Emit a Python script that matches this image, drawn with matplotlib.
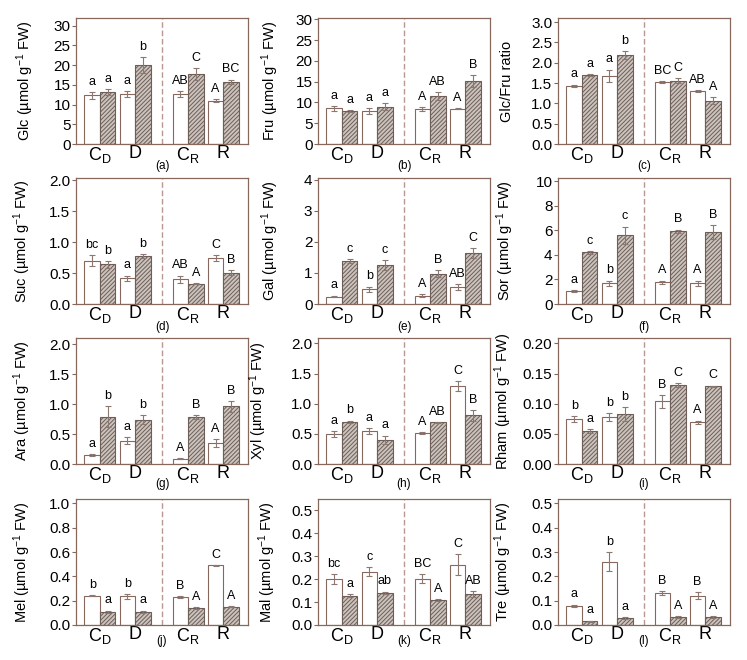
import matplotlib
matplotlib.use("Agg")
import matplotlib.pyplot as plt
import numpy as np

plt.rcParams['font.family'] = ['Liberation Sans', 'DejaVu Sans']
plt.rcParams['mathtext.fontset'] = 'custom'
plt.rcParams['mathtext.rm'] = 'Liberation Sans'
plt.rcParams['mathtext.it'] = 'Liberation Sans:italic'
plt.rcParams['hatch.linewidth'] = 0.7

# ---------------- data ----------------
groups = [r'C$_\mathregular{D}$', 'D', r'C$_\mathregular{R}$', 'R']
panel_tags = ['(a)', '(b)', '(c)', '(d)', '(e)', '(f)', '(g)', '(h)', '(i)', '(j)', '(k)', '(l)']
ylabels = ['Glc (µmol g$^{-1}$ FW)', 'Fru (µmol g$^{-1}$ FW)', 'Glc/Fru ratio',
           'Suc (µmol g$^{-1}$ FW)', 'Gal (µmol g$^{-1}$ FW)', 'Sor (µmol g$^{-1}$ FW)',
           'Ara (µmol g$^{-1}$ FW)', 'Xyl (µmol g$^{-1}$ FW)', 'Rham (µmol g$^{-1}$ FW)',
           'Mel (µmol g$^{-1}$ FW)', 'Mal (µmol g$^{-1}$ FW)', 'Tre (µmol g$^{-1}$ FW)']

# white bars (first bar of each group)
white_vals = [
    [12.3, 12.6, 12.7, 11.0],
    [8.6, 7.9, 8.4, 8.5],
    [1.43, 1.68, 1.52, 1.31],
    [0.70, 0.42, 0.40, 0.74],
    [0.24, 0.48, 0.27, 0.55],
    [1.05, 1.70, 1.75, 1.70],
    [0.15, 0.39, 0.09, 0.35],
    [0.50, 0.54, 0.51, 1.29],
    [0.075, 0.078, 0.104, 0.069],
    [0.240, 0.235, 0.230, 0.490],
    [0.200, 0.232, 0.202, 0.262],
    [0.080, 0.261, 0.133, 0.121],
]
white_err = [
    [0.9, 0.7, 0.8, 0.3],
    [0.6, 0.8, 0.5, 0.2],
    [0.03, 0.15, 0.02, 0.02],
    [0.09, 0.04, 0.06, 0.05],
    [0.03, 0.08, 0.05, 0.10],
    [0.10, 0.20, 0.15, 0.20],
    [0.01, 0.06, 0.01, 0.07],
    [0.05, 0.05, 0.02, 0.08],
    [0.005, 0.007, 0.011, 0.003],
    [0.005, 0.020, 0.008, 0.005],
    [0.023, 0.020, 0.020, 0.045],
    [0.004, 0.040, 0.008, 0.015],
]
hatch_vals = [
    [13.2, 20.0, 17.7, 15.8],
    [7.9, 9.0, 11.6, 15.2],
    [1.69, 2.19, 1.56, 1.07],
    [0.64, 0.78, 0.33, 0.51],
    [1.38, 1.25, 0.98, 1.63],
    [4.20, 5.60, 5.90, 5.85],
    [0.79, 0.74, 0.78, 0.96],
    [0.70, 0.40, 0.69, 0.81],
    [0.055, 0.083, 0.131, 0.129],
    [0.110, 0.110, 0.140, 0.150],
    [0.127, 0.140, 0.110, 0.135],
    [0.016, 0.028, 0.032, 0.032],
]
hatch_err = [
    [0.7, 2.0, 1.6, 0.5],
    [0.3, 0.8, 0.9, 1.4],
    [0.02, 0.10, 0.06, 0.08],
    [0.05, 0.03, 0.01, 0.04],
    [0.07, 0.17, 0.10, 0.16],
    [0.10, 0.70, 0.15, 0.60],
    [0.18, 0.07, 0.03, 0.09],
    [0.02, 0.07, 0.01, 0.09],
    [0.003, 0.012, 0.003, 0.001],
    [0.008, 0.008, 0.005, 0.005],
    [0.007, 0.005, 0.004, 0.013],
    [0.002, 0.003, 0.003, 0.005],
]
white_letters = [
    ['a', 'a', 'AB', 'A'], ['a', 'a', 'A', 'A'], ['a', 'a', 'BC', 'AB'],
    ['bc', 'a', 'AB', 'C'], ['a', 'b', 'A', 'AB'], ['a', 'b', 'A', 'A'],
    ['a', 'a', 'A', 'A'], ['a', 'a', 'A', 'C'], ['b', 'b', 'B', 'A'],
    ['b', 'b', 'B', 'C'], ['bc', 'c', 'BC', 'C'], ['a', 'b', 'B', 'B'],
]
hatch_letters = [
    ['a', 'b', 'C', 'BC'], ['a', 'a', 'AB', 'B'], ['a', 'b', 'C', 'A'],
    ['b', 'b', 'A', 'B'], ['c', 'c', 'B', 'C'], ['c', 'c', 'B', 'B'],
    ['b', 'b', 'B', 'B'], ['b', 'a', 'AB', 'B'], ['a', 'b', 'C', 'C'],
    ['a', 'a', 'A', 'A'], ['a', 'ab', 'A', 'AB'], ['a', 'a', 'A', 'A'],
]
yticks = [
    [0, 5, 10, 15, 20, 25, 30], [0, 5, 10, 15, 20, 25, 30], [0.0, 0.5, 1.0, 1.5, 2.0, 2.5, 3.0],
    [0.0, 0.5, 1.0, 1.5, 2.0], [0, 1, 2, 3, 4], [0, 2, 4, 6, 8, 10],
    [0.0, 0.5, 1.0, 1.5, 2.0], [0.0, 0.5, 1.0, 1.5, 2.0], [0.00, 0.05, 0.10, 0.15, 0.20],
    [0.0, 0.2, 0.4, 0.6, 0.8, 1.0], [0.0, 0.1, 0.2, 0.3, 0.4, 0.5], [0.0, 0.1, 0.2, 0.3, 0.4, 0.5],
]
tick_fmt = ['%d', '%d', '%.1f', '%.1f', '%d', '%d', '%.1f', '%.1f', '%.2f', '%.1f', '%.1f', '%.1f']
ytops = [31.9, 30.3, 3.1, 2.04, 4.05, 10.25, 2.1, 2.09, 0.209, 1.036, 0.548, 0.518]

# ---------------- layout ----------------
W, H = 747, 660
fig = plt.figure(figsize=(W / 100, H / 100), dpi=100)
col_left = [76, 318, 558]
row_top = [18, 178, 338, 499]
ax_w, ax_h = 172, 126
ylabel_x = [-0.233, -0.215, -0.256, -0.25, -0.215, -0.244, -0.25, -0.285, -0.256, -0.25, -0.233, -0.256]
tag_y = [-0.175, -0.18, -0.16, -0.13]

frame_col = '#86685c'
sep_col = '#b89890'
err_col = '#8c7870'
pos = np.array([0.0, 1.0, 2.5, 3.5])
bw = 0.44

for i in range(12):
    r, c = divmod(i, 3)
    ax = fig.add_axes([col_left[c] / W, 1 - (row_top[r] + ax_h) / H, ax_w / W, ax_h / H])
    wv, we = white_vals[i], white_err[i]
    hv, he = hatch_vals[i], hatch_err[i]
    ax.bar(pos - bw / 2, wv, bw, color='white', edgecolor=frame_col, linewidth=0.8, zorder=2)
    ax.bar(pos + bw / 2, hv, bw, color='#cbc3bd', edgecolor='#6e5e58', hatch='////////',
           linewidth=0.8, zorder=2)
    ax.errorbar(pos - bw / 2, wv, yerr=we, fmt='none', ecolor=err_col, elinewidth=0.8,
                capsize=2.5, capthick=0.8, zorder=3)
    ax.errorbar(pos + bw / 2, hv, yerr=he, fmt='none', ecolor=err_col, elinewidth=0.8,
                capsize=2.5, capthick=0.8, zorder=3)
    for k in range(4):
        ax.annotate(white_letters[i][k], (pos[k] - bw / 2, wv[k] + we[k]), xytext=(0, 3),
                    textcoords='offset points', ha='center', va='bottom', fontsize=9)
        ax.annotate(hatch_letters[i][k], (pos[k] + bw / 2, hv[k] + he[k]), xytext=(0, 3),
                    textcoords='offset points', ha='center', va='bottom', fontsize=9)
    ax.axvline(1.75, color=sep_col, linestyle=(0, (4, 2)), linewidth=1.0, zorder=1)
    ax.set_xlim(-0.68, 4.2)
    ax.set_ylim(0, ytops[i])
    ax.set_yticks(yticks[i])
    ax.set_yticklabels([tick_fmt[i] % v for v in yticks[i]], fontsize=11)
    ax.set_xticks(pos)
    ax.set_xticklabels(groups, fontsize=13)
    ax.tick_params(axis='x', length=0, pad=1)
    ax.tick_params(axis='y', direction='out', length=3, width=0.8, color=frame_col, pad=1)
    for s in ax.spines.values():
        s.set_color(frame_col)
        s.set_linewidth(0.9)
    ax.set_ylabel(ylabels[i], fontsize=10.5)
    ax.yaxis.set_label_coords(ylabel_x[i], 0.5)
    ax.text(0.5, tag_y[r], panel_tags[i], transform=ax.transAxes, ha='center', va='center',
            fontsize=8.5)

fig.savefig('out.png', dpi=100, facecolor='white')
